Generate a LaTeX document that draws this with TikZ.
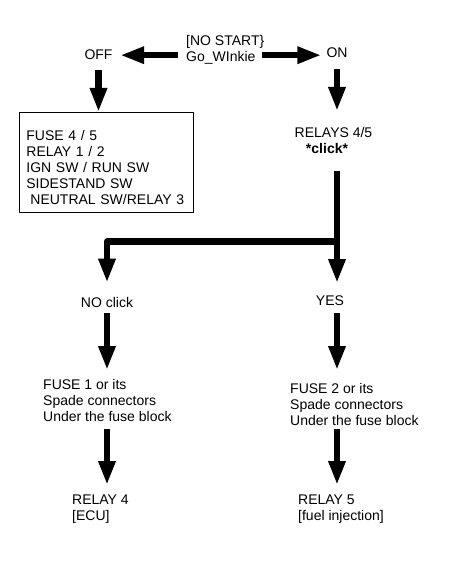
\documentclass[tikz,border=0pt]{standalone}
\usepackage{fontspec}
\setmainfont{Liberation Sans}
\usetikzlibrary{arrows.meta}

\begin{document}
\begin{tikzpicture}[line join=round,x=1pt,y=-1pt,
    lbl/.style={inner sep=0pt,font=\fontsize{14pt}{16pt}\selectfont,align=left},
    checkbox/.style={lbl,draw,line width=0.8pt,inner xsep=7pt,text width=160pt},
    bigarrow/.style={line width=6.5pt,-{Triangle[width=16pt,length=24pt]}}]
                \useasboundingbox (0,0) rectangle (452,561);
                % top row
                \node[lbl,anchor=north west] (start) at (186,35) {[NO START\}\\Go\_WInkie};
                \node[lbl,anchor=base] (off) at (98.5,60) {OFF};
                \node[lbl,anchor=base] (on) at (337,58) {ON};
                \draw[bigarrow,shorten <=8pt,shorten >=7.5pt] (start.west |- off.east)-- (off.east);
                \draw[bigarrow,shorten <=-2pt,shorten >=5pt] (start.east |- off.east)-- (on.west |- off.east);
                % OFF side
                \node[checkbox,anchor=north west] (checks) at (19,112) {\rule{0pt}{28pt}FUSE 4 / 5\\RELAY 1 / 2\\IGN SW / RUN SW\\SIDESTAND SW\\\hspace*{4pt}NEUTRAL SW/RELAY 3\rule[-8pt]{0pt}{8pt}};
                \draw[bigarrow,shorten <=10pt] (off.south)-- (checks.north -| off.south);
                % ON side
                \node[lbl,anchor=north,align=center] (relays) at (333.5,127) {RELAYS 4/5\\\textbf{*click*}\hspace*{13pt}};
                \draw[bigarrow,shorten <=11pt,shorten >=16pt] (on.south)-- (relays.north -| on.south);
                \node[lbl,anchor=base] (noclick) at (107,307) {NO click};
                \node[lbl,anchor=base] (yes) at (330,305) {YES};
                \path (relays.south -| on.south) ++(0,88) coordinate (split);
                \draw[bigarrow,shorten <=17pt,shorten >=12pt] (relays.south -| on.south)-- (yes.north -| split);
                \draw[bigarrow,shorten >=14pt] (split) -| (noclick.north);
                % lower rows
                \node[lbl,anchor=north west] (fuseone) at (43,379) {FUSE 1 or its\\Spade connectors\\Under the fuse block};
                \node[lbl,anchor=north west] (fusetwo) at (290,383) {FUSE 2 or its\\Spade connectors\\Under the fuse block};
                \node[lbl,anchor=north west] (relayfour) at (72,495) {RELAY 4\\{[ECU]}};
                \node[lbl,anchor=north west] (relayfive) at (298,495) {RELAY 5\\{[fuel injection]}};
                \draw[bigarrow,shorten <=6pt,shorten >=9pt] (noclick.south)-- (fuseone.north -| noclick.south);
                \draw[bigarrow,shorten <=8pt,shorten >=13pt] (yes.south -| split)-- (fusetwo.north -| split);
                \draw[bigarrow,shorten <=7pt,shorten >=10pt] (fuseone.south -| noclick.south)-- (relayfour.north -| noclick.south);
                \draw[bigarrow,shorten <=3pt,shorten >=10pt] (fusetwo.south -| split)-- (relayfive.north -| split);
\end{tikzpicture}
\end{document}
